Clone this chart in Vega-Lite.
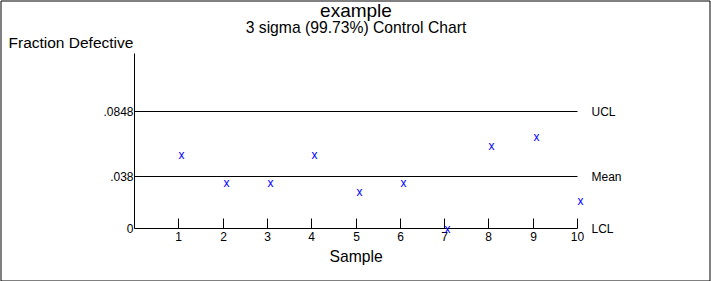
{
  "$schema": "https://vega.github.io/schema/vega-lite/v6.json",
  "width": 709,
  "height": 280,
  "autosize": "none",
  "padding": {"left": 0.5, "top": 0.5, "right": 1.5, "bottom": 0.5},
  "background": "white",
  "config": {
    "view": {"stroke": "black", "strokeWidth": 1},
    "font": "Liberation Sans",
    "axis": {"translate": 0, "grid": false, "domain": false}
  },
  "title": {
    "text": "example",
    "subtitle": "3 sigma (99.73%) Control Chart",
    "anchor": "middle",
    "frame": "group",
    "offset": -35,
    "dx": 1,
    "font": "Liberation Sans",
    "subtitleFont": "Liberation Sans",
    "fontSize": 19,
    "fontWeight": "normal",
    "subtitleFontSize": 15.7,
    "subtitlePadding": 0,
    "color": "black",
    "subtitleColor": "black"
  },
  "datasets": {
    "samples": [
      {"sample": 1, "p": 0.05333},
      {"sample": 2, "p": 0.03333},
      {"sample": 3, "p": 0.03333},
      {"sample": 4, "p": 0.05333},
      {"sample": 5, "p": 0.02667},
      {"sample": 6, "p": 0.03333},
      {"sample": 7, "p": 0},
      {"sample": 8, "p": 0.06},
      {"sample": 9, "p": 0.06667},
      {"sample": 10, "p": 0.02}
    ],
    "limits": [
      {"label": "UCL", "value": 0.0848},
      {"label": "Mean", "value": 0.038},
      {"label": "LCL", "value": 0}
    ],
    "yaxis": [{"bottom": 0, "top": 0.1272}]
  },
  "layer": [
    {
      "data": {"name": "yaxis"},
      "mark": {"type": "rule", "color": "black", "strokeWidth": 1},
      "encoding": {
        "x": {
          "datum": 0,
          "type": "quantitative",
          "scale": {"domain": [-3.02483, 12.97968], "nice": false, "zero": false, "round": true},
          "axis": {
            "orient": "bottom",
            "offset": -52,
            "values": [1, 2, 3, 4, 5, 6, 7, 8, 9, 10],
            "format": "d",
            "ticks": true,
            "tickSize": -10,
            "tickColor": "black",
            "tickWidth": 1,
            "labelFontSize": 12,
            "labelColor": "black",
            "labelPadding": 13,
            "labelFont": "Liberation Sans",
            "title": "Sample",
            "titleFont": "Liberation Sans",
            "titleFontSize": 15.7,
            "titleFontWeight": "normal",
            "titleColor": "black",
            "titleX": 355.6,
            "titleY": 33.5,
            "titleAlign": "center",
            "titleBaseline": "alphabetic"
          }
        },
        "y": {
          "field": "bottom",
          "type": "quantitative",
          "scale": {"domain": [-0.0376889, 0.1652513], "nice": false, "zero": false, "round": true},
          "axis": {
            "orient": "left",
            "offset": -134,
            "values": [0, 0.038, 0.0848],
            "labelExpr": "datum.value == 0 ? '0' : (datum.value == 0.038 ? '.038' : '.0848')",
            "ticks": false,
            "labelFontSize": 12,
            "labelColor": "black",
            "labelPadding": 1,
            "labelFont": "Liberation Sans",
            "title": "Fraction Defective",
            "titleFont": "Liberation Sans",
            "titleFontSize": 15.5,
            "titleFontWeight": "normal",
            "titleColor": "black",
            "titleAngle": 0,
            "titleX": -126,
            "titleY": 47,
            "titleAlign": "left",
            "titleBaseline": "alphabetic"
          }
        },
        "y2": {"field": "top"}
      }
    },
    {
      "data": {"name": "limits"},
      "mark": {"type": "rule", "color": "black", "strokeWidth": 1},
      "encoding": {
        "x": {"datum": 0, "type": "quantitative"},
        "x2": {"datum": 10},
        "y": {"field": "value", "type": "quantitative"}
      }
    },
    {
      "data": {"name": "limits"},
      "mark": {"type": "text", "align": "left", "baseline": "middle", "dx": 14, "fontSize": 12, "color": "black", "font": "Liberation Sans"},
      "encoding": {
        "x": {"datum": 10, "type": "quantitative"},
        "y": {"field": "value", "type": "quantitative"},
        "text": {"field": "label"}
      }
    },
    {
      "data": {"name": "samples"},
      "mark": {"type": "text", "text": "x", "align": "center", "baseline": "middle", "dx": 3, "fontSize": 12, "color": "#0000FF", "font": "Liberation Sans"},
      "encoding": {
        "x": {"field": "sample", "type": "quantitative"},
        "y": {"field": "p", "type": "quantitative"}
      }
    }
  ]
}
